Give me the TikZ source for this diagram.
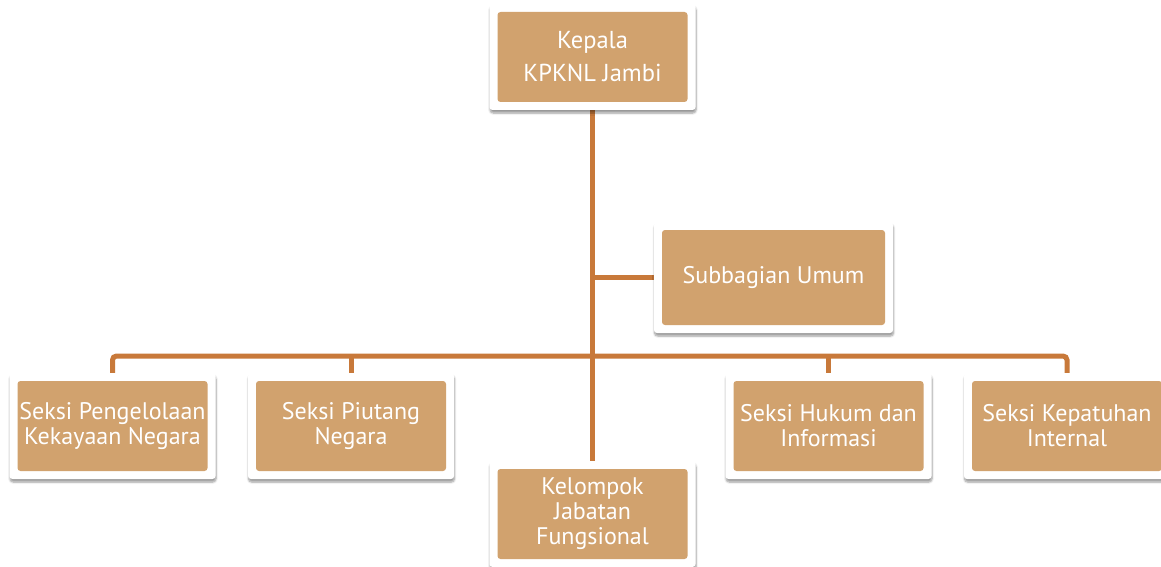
\documentclass[tikz,border=0pt]{standalone}
\usepackage{fontspec}
\setmainfont{PT Sans}
\usetikzlibrary{shadows.blur,backgrounds}
\definecolor{tanbox}{RGB}{209,162,110}
\definecolor{linec}{RGB}{200,121,58}
\tikzset{
  orgbox/.style={rectangle, fill=white, rounded corners=3pt, inner sep=0pt,
    minimum width=206pt, minimum height=#1, text=white, align=center,
    font=\fontsize{24}{25}\selectfont,
    blur shadow={shadow xshift=0.5pt, shadow yshift=-3pt, shadow blur steps=6, shadow opacity=40},
    path picture={\fill[tanbox] ([shift={(8pt,8pt)}]path picture bounding box.south west) rectangle ([shift={(-8pt,-8pt)}]path picture bounding box.north east);}},
  orgbox/.default=106pt,
  conn/.style={draw=linec, line width=5pt}
}
\begin{document}
\begin{tikzpicture}[x=1pt,y=-1pt]
\useasboundingbox (0,0) rectangle (1161,567);
\clip (0,0) rectangle (1161,567);
\node[orgbox=106pt, font=\fontsize{24.5}{33}\selectfont] (top) at (592.5,57) {Kepala\\KPKNL Jambi};
\node[orgbox=111pt, minimum width=239pt] (sub) at (773.5,277.5) {Subbagian Umum};
\node[orgbox] (s1) at (112.5,426) {Seksi Pengelolaan\\Kekayaan Negara};
\node[orgbox] (s2) at (351,426) {Seksi Piutang\\Negara};
\node[orgbox] (kjf) at (592.5,514) {Kelompok\\Jabatan\\Fungsional};
\node[orgbox] (s4) at (828.5,426) {Seksi Hukum dan\\Informasi};
\node[orgbox] (s5) at (1067,426) {Seksi Kepatuhan\\Internal};
\coordinate (bus) at (592.5,356);
\begin{scope}[on background layer]
\draw[conn] (top.south) -- (kjf.north);
\draw[conn] (top.south |- sub.west) -- (sub.west);
\draw[conn, rounded corners=4pt] (s1.north) -- (s1.north |- bus) -- (s5.north |- bus) -- (s5.north);
\draw[conn] (s2.north) -- (s2.north |- bus);
\draw[conn] (s4.north) -- (s4.north |- bus);
\end{scope}
\end{tikzpicture}
\end{document}
